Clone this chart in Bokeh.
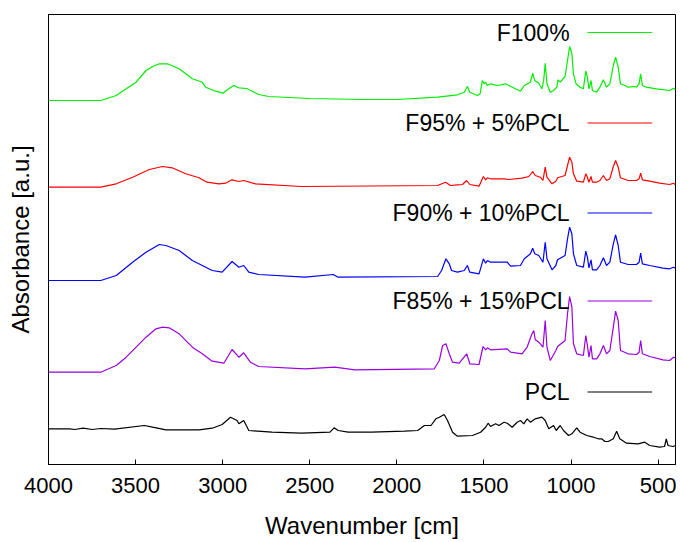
from bokeh.plotting import figure
from bokeh.models import Range1d, FixedTicker, Label, BoxAnnotation
from bokeh.embed import file_html
from bokeh.resources import INLINE

# ---- data (absorbance in arbitrary units, curves offset vertically) ----
x_ticks = [4000, 3500, 3000, 2500, 2000, 1500, 1000, 500]

series_names = ["F100%", "F95% + 5%PCL", "F90% + 10%PCL", "F85% + 15%PCL", "PCL"]
series_colors = ["#00EE00", "#FF0000", "#0000FF", "#9B00E0", "#000000"]

wn_f100 = [4000, 3700, 3611, 3554, 3497, 3440, 3402, 3364, 3317, 3250, 3174, 3117, 3098, 3040, 2999, 2965,
           2936, 2907, 2862, 2793, 2736, 2500, 2200, 2000, 1766, 1652, 1613, 1595, 1581, 1538, 1522, 1509,
           1499, 1490, 1480, 1462, 1423, 1376, 1357, 1290, 1268, 1233, 1220, 1208, 1185, 1167, 1157, 1148,
           1138, 1119, 1100, 1081, 1075, 1062, 1034, 1020, 1008, 995, 986, 971, 948, 929, 915, 906, 897,
           885, 877, 853, 834, 814, 796, 777, 757, 744, 729, 716, 691, 672, 634, 624, 609, 600, 590, 567,
           510, 434, 411, 400]
abs_f100 = [364, 364, 369, 375.7, 382.3, 394, 398, 400.7, 400.7, 395.7, 385.7, 382.3, 377.3, 373.3, 371.3,
            375.7, 379, 376.7, 376, 370, 368, 366, 365, 365, 367.3, 369.7, 372.3, 378, 372.3, 369, 370.7,
            384, 380.7, 382.3, 379, 380.7, 379, 380.7, 379, 373.3, 379, 382.3, 391.3, 384, 381.3, 375.7,
            384, 401.3, 380.7, 372.3, 374, 377.3, 384.7, 382.3, 388, 404, 418, 410.7, 390.7, 380.7, 377.3,
            375.7, 393.3, 387.3, 375.7, 384, 374, 372.3, 377.3, 384.7, 377.3, 380.7, 399, 407.3, 397.3,
            380.7, 379, 377.3, 378, 377.3, 380.7, 390.7, 379, 377.3, 375.7, 374, 376.3, 374.7]

wn_f95 = [4000, 3700, 3611, 3517, 3421, 3345, 3290, 3212, 3136, 3090, 3022, 2983, 2947, 2907, 2879, 2812,
          2548, 1766, 1720, 1692, 1652, 1623, 1599, 1581, 1528, 1503, 1490, 1480, 1462, 1385, 1357, 1281,
          1242, 1220, 1205, 1176, 1161, 1148, 1138, 1109, 1087, 1077, 1034, 1020, 1008, 995, 986, 967, 929,
          915, 906, 897, 885, 877, 853, 834, 814, 796, 777, 757, 744, 729, 716, 672, 624, 609, 600, 590,
          548, 491, 434, 411, 400]
abs_f95 = [277.3, 277.3, 280.7, 287.3, 295, 298, 296.7, 290.7, 286.7, 282.3, 280.7, 281.3, 284.7, 283, 284,
           280.7, 278, 279, 282.3, 279, 279.7, 280, 284, 280, 278.3, 288, 284.7, 286.7, 285.7, 285.7, 285,
           286.3, 288, 293, 289, 287.3, 284, 297.3, 287.3, 280.7, 283.3, 286.7, 289, 299, 307.3, 302.3,
           290.7, 283.3, 282.3, 290.7, 287.3, 282.3, 288, 282.3, 282.3, 284, 289, 284, 285.7, 298, 304,
           297.3, 286.7, 284, 284, 285.7, 291.3, 284.7, 283.3, 281.3, 280, 281.3, 279.7]

wn_f90 = [4000, 3700, 3611, 3517, 3440, 3364, 3326, 3250, 3174, 3117, 3060, 3003, 2946, 2907, 2879, 2850,
          2793, 2527, 2365, 2337, 1766, 1743, 1718, 1699, 1686, 1652, 1613, 1595, 1581, 1528, 1503, 1490,
          1480, 1462, 1366, 1347, 1290, 1268, 1233, 1220, 1208, 1185, 1161, 1148, 1138, 1109, 1087, 1077,
          1034, 1020, 1008, 995, 986, 967, 929, 915, 906, 897, 885, 877, 853, 834, 814, 796, 777, 757, 744,
          729, 716, 672, 624, 609, 600, 590, 548, 472, 434, 411, 400]
abs_f90 = [184, 184, 189, 202.3, 212.3, 220, 219, 214, 204, 199, 194, 192.3, 203, 197.3, 199, 192.3, 190,
           187.3, 190, 187.3, 188, 194, 205.7, 200.7, 194, 192.3, 194, 199, 192.3, 190.7, 205.7, 201.3, 204,
           202.3, 202.3, 198.3, 199, 205.7, 210.7, 216.3, 210.7, 209, 202.3, 222.3, 205.7, 194.7, 199,
           204.7, 209, 225.7, 237.3, 230.7, 210.7, 199, 197.3, 213.3, 207.3, 196.7, 204.7, 194.7, 194.7,
           199, 206.7, 199, 202.3, 220.7, 229.7, 219, 202.3, 200, 200, 202.3, 211.3, 200.7, 199, 196.3,
           195.7, 197.3, 196.3]

wn_f85 = [4000, 3700, 3611, 3554, 3497, 3440, 3383, 3345, 3307, 3250, 3174, 3117, 3060, 2993, 2946, 2907,
          2879, 2841, 2793, 2527, 2356, 2241, 1785, 1756, 1737, 1718, 1699, 1680, 1642, 1599, 1581, 1528,
          1505, 1490, 1480, 1462, 1366, 1347, 1281, 1252, 1228, 1214, 1205, 1185, 1161, 1148, 1138, 1119,
          1087, 1077, 1034, 1020, 1008, 995, 986, 967, 929, 915, 906, 897, 885, 877, 853, 834, 814, 796,
          777, 757, 744, 729, 716, 672, 624, 609, 600, 590, 548, 472, 434, 411, 400]
abs_f85 = [92.3, 92.3, 99, 107.3, 117.3, 127.3, 135.7, 137.3, 136.7, 130.7, 117.3, 110.7, 103.3, 101.3, 115,
           107.3, 111.7, 102.3, 98, 95.7, 97.3, 94.7, 95.7, 104, 119, 120.7, 110.7, 102.3, 101.3, 110.7,
           100.7, 100, 118, 114.7, 116.7, 114.7, 115.7, 112.3, 110.7, 117.3, 129, 134, 124.7, 122.3, 117.3,
           144, 117.3, 104, 114, 118, 124, 150.7, 168, 157.3, 120.7, 110.7, 109, 129, 119, 107.3, 119,
           105.7, 105.7, 110.7, 119, 110.7, 114, 137.3, 153.3, 144, 114, 110.7, 110, 112.3, 124, 110.7, 108,
           104.7, 104, 107.3, 106.7]

wn_pcl = [4000, 3878, 3850, 3800, 3750, 3700, 3621, 3450, 3402, 3326, 3136, 3060, 3003, 2955, 2917, 2907,
          2879, 2850, 2717, 2546, 2384, 2360, 2337, 2280, 2147, 1956, 1880, 1842, 1804, 1776, 1756, 1728,
          1709, 1680, 1652, 1566, 1519, 1490, 1476, 1462, 1433, 1414, 1385, 1366, 1338, 1309, 1290, 1271,
          1252, 1233, 1205, 1167, 1148, 1128, 1100, 1085, 1062, 1043, 1014, 995, 967, 948, 910, 871, 843,
          824, 805, 786, 757, 738, 720, 681, 615, 577, 548, 491, 463, 453, 443, 415, 400]
abs_pcl = [35.7, 35.7, 35, 36.3, 35, 36, 35.3, 39, 37.3, 34.7, 34.7, 36.3, 40, 47.3, 44, 40.7, 44, 34, 32.3,
           31.3, 32.3, 36.7, 34, 32.3, 32.3, 33.3, 34, 39, 39, 45.7, 47.3, 50, 44, 32.3, 28.3, 29, 32.3,
           37.3, 41.3, 38, 40.7, 39, 42.3, 41.3, 37.3, 42.3, 44, 40.7, 45.7, 42.3, 45.7, 47.3, 44, 35.7, 39,
           34, 39, 34, 29, 30.7, 36.7, 32.3, 29, 27.3, 25.7, 25.7, 23, 23, 25.7, 33.3, 25.7, 21.3, 20.7,
           22.3, 19, 17.3, 18, 25.7, 19, 18, 19]

series_x = [wn_f100, wn_f95, wn_f90, wn_f85, wn_pcl]
series_y = [abs_f100, abs_f95, abs_f90, abs_f85, abs_pcl]

# legend key placement (data units)
key_label_x = 1008
key_line_x0 = 905
key_line_x1 = 534
key_y = [432, 341.5, 251.5, 163.5, 72.5]

FONT = "Liberation Sans"

p = figure(frame_width=627, frame_height=450, output_backend="svg", toolbar_location=None,
           x_range=Range1d(4000, 400), y_range=Range1d(0, 450),
           min_border_left=48, min_border_right=1, min_border_top=14, min_border_bottom=60)

p.background_fill_color = "white"
p.border_fill_color = "white"
p.outline_line_color = "black"
p.outline_line_width = 1
p.xgrid.visible = False
p.ygrid.visible = False

for xs, ys, c in zip(series_x, series_y, series_colors):
    p.line(xs, ys, line_color=c, line_width=1.2)

xa = p.xaxis[0]
xa.ticker = FixedTicker(ticks=x_ticks)
xa.major_tick_in = 5
xa.major_tick_out = 0
xa.minor_tick_line_color = None
xa.axis_line_color = "black"
xa.major_tick_line_color = "black"
xa.major_label_text_font = FONT
xa.major_label_text_font_size = "22px"
xa.major_label_text_color = "black"
xa.major_label_standoff = 13
xa.axis_label = "Wavenumber [cm]"
xa.axis_label_text_font = FONT
xa.axis_label_text_font_size = "24px"
xa.axis_label_text_font_style = "normal"
xa.axis_label_text_color = "black"
xa.axis_label_standoff = 16

ya = p.yaxis[0]
ya.ticker = FixedTicker(ticks=[])
ya.major_tick_in = 0
ya.major_tick_out = 0
ya.major_tick_line_color = None
ya.minor_tick_line_color = None
ya.major_label_standoff = 0
ya.axis_line_color = "black"
ya.axis_label = "Absorbance [a.u.]"
ya.axis_label_text_font = FONT
ya.axis_label_text_font_size = "24px"
ya.axis_label_text_font_style = "normal"
ya.axis_label_text_color = "black"
ya.axis_label_standoff = 15

for name, c, ky in zip(series_names, series_colors, key_y):
    p.add_layout(Label(x=key_label_x, y=ky, text=name, text_align="right", text_baseline="middle",
                       text_font=FONT, text_font_size="23px", text_color="black"))
    p.add_layout(BoxAnnotation(left=key_line_x1, right=key_line_x0, bottom=ky, top=ky,
                               fill_color=None, fill_alpha=0, line_color=c, line_width=1.2,
                               line_alpha=1.0))

open("out.html", "w").write(file_html(p, INLINE))
